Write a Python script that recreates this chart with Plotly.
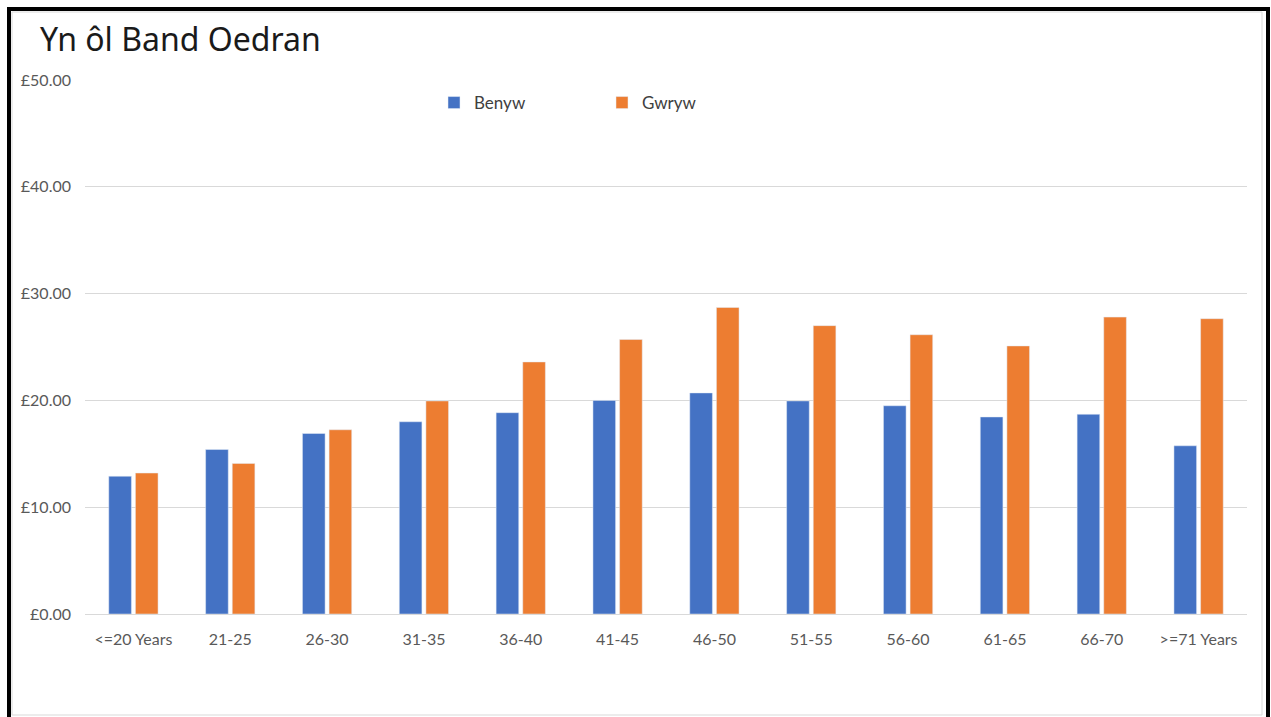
import plotly.graph_objects as go

categories = ["<=20 Years", "21-25", "26-30", "31-35", "36-40", "41-45",
              "46-50", "51-55", "56-60", "61-65", "66-70", ">=71 Years"]
benyw = [12.9, 15.4, 16.9, 18.0, 18.85, 20.0, 20.7, 19.95, 19.5, 18.45, 18.7, 15.75]
gwryw = [13.2, 14.1, 17.25, 19.95, 23.6, 25.7, 28.7, 27.0, 26.15, 25.1, 27.8, 27.65]
y_ticks = [0, 10, 20, 30, 40, 50]
y_tick_labels = ["£%.2f" % v for v in y_ticks]

W, H = 1271, 717
L, R, T, B = 85, 24, 80, 103
PW, PH = W - L - R, H - T - B


def px(x):
    return (x - L) / PW


def py(y):
    return (H - B - y) / PH


fig = go.Figure()
fig.add_trace(go.Bar(name="Benyw", x=categories, y=benyw, marker_color="#4472C4"))
fig.add_trace(go.Bar(name="Gwryw", x=categories, y=gwryw, marker_color="#ED7D31"))

tick_font = dict(family="Lato, Open Sans, sans-serif", size=16, color="#595959")

fig.update_layout(
    width=W, height=H,
    margin=dict(l=L, r=R, t=T, b=B, pad=0),
    paper_bgcolor="white", plot_bgcolor="white",
    barmode="group", bargap=0.45, bargroupgap=0.15,
    title=dict(text="Yn ôl Band Oedran", x=40 / W, xref="container", xanchor="left",
               y=(H - 40) / H, yanchor="middle", yref="container",
               font=dict(family="Noto Sans, sans-serif", size=32, color="#1a1a1a")),
    legend=dict(orientation="h", x=px(434), xanchor="left", y=py(103), yanchor="middle",
                font=dict(family="Lato, Open Sans, sans-serif", size=17, color="#404040"),
                entrywidth=123, itemwidth=30, bgcolor="rgba(0,0,0,0)"),
    xaxis=dict(showgrid=False, showline=True, linecolor="#D9D9D9", linewidth=1,
               tickfont=tick_font, ticks="", ticklabelstandoff=11, fixedrange=True),
    yaxis=dict(range=[0, 50], tickvals=y_ticks, ticktext=y_tick_labels,
               showgrid=True, gridcolor="#D9D9D9", gridwidth=1, zeroline=False,
               showline=False, tickfont=tick_font, ticks="", ticklabelstandoff=13),
    showlegend=True,
)

fig.add_shape(type="rect", xref="paper", yref="paper",
              x0=px(12), x1=px(1262), y0=py(715), y1=py(12),
              line=dict(color="#D9D9D9", width=1), layer="below")
fig.add_shape(type="rect", xref="paper", yref="paper",
              x0=px(9), x1=px(1268), y0=py(730), y1=py(9),
              line=dict(color="black", width=4), layer="above")

fig.write_html("out.html")
